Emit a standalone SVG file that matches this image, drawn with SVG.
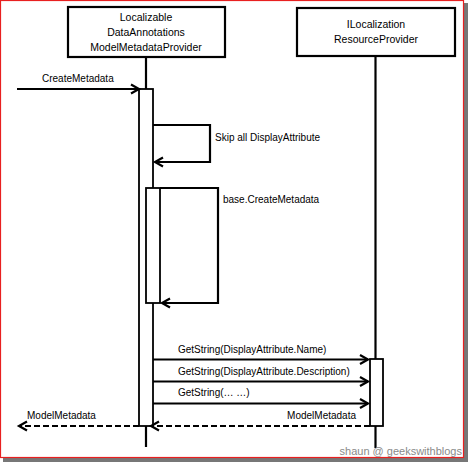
<svg xmlns="http://www.w3.org/2000/svg" width="468" height="462" viewBox="0 0 468 462">
<style>
.box{fill:#fff;stroke:#000;stroke-width:2.2}
.ln{fill:none;stroke:#000;stroke-width:2.2}
.dash{fill:none;stroke:#000;stroke-width:2.2;stroke-dasharray:6,3}
.act{fill:#fff;stroke:#000;stroke-width:1.8}
.h{font-family:"Liberation Sans",Arial,sans-serif;font-size:10.5px;fill:#000;text-anchor:middle}
.t{font-family:"Liberation Sans",Arial,sans-serif;font-size:10px;fill:#000}
</style>
<defs>
<marker id="ar" markerUnits="userSpaceOnUse" markerWidth="12" markerHeight="12" refX="9" refY="5" orient="auto" overflow="visible">
<path d="M1,0.5 L9,5 L1,9.5" fill="none" stroke="#000" stroke-width="2.2"/>
</marker>
</defs>
<rect x="0" y="0" width="468" height="462" fill="#fff"/>
<rect x="464" y="3" width="4" height="459" fill="#777"/>
<rect x="3" y="458" width="465" height="4" fill="#777"/>
<rect x="0.5" y="0.5" width="463" height="457" fill="none" stroke="#e82020" stroke-width="1.2"/>

<g id="lifelines">
<line class="ln" x1="146" y1="57" x2="146" y2="447"/>
<line class="ln" x1="375.5" y1="56" x2="375.5" y2="448"/>
</g>

<g id="node-provider">
<rect class="box" x="68" y="7" width="157" height="50"/>
<text class="h" x="146" y="21">Localizable</text>
<text class="h" x="146" y="36">DataAnnotations</text>
<text class="h" x="146" y="51">ModelMetadataProvider</text>
</g>
<g id="node-resource">
<rect class="box" x="297" y="8" width="158" height="48"/>
<text class="h" x="376" y="28">ILocalization</text>
<text class="h" x="376" y="43">ResourceProvider</text>
</g>

<g id="activations">
<rect class="act" x="139" y="89" width="14" height="337"/>
<rect class="act" x="146" y="188" width="14" height="115"/>
<rect class="act" x="370" y="359" width="13" height="67"/>
</g>

<g id="connectors">
<line class="ln" x1="17" y1="89" x2="139" y2="89" marker-end="url(#ar)"/>
<path class="ln" d="M153,125 H210 V162 H155" marker-end="url(#ar)"/>
<path class="ln" d="M160,188 H218 V303 H162" marker-end="url(#ar)"/>
<line class="ln" x1="153" y1="359.5" x2="368" y2="359.5" marker-end="url(#ar)"/>
<line class="ln" x1="153" y1="381.5" x2="368" y2="381.5" marker-end="url(#ar)"/>
<line class="ln" x1="153" y1="403.5" x2="368" y2="403.5" marker-end="url(#ar)"/>
<line class="dash" x1="370" y1="426" x2="151" y2="426" marker-end="url(#ar)"/>
<line class="dash" x1="139" y1="426" x2="19" y2="426" marker-end="url(#ar)"/>
</g>

<g id="labels">
<text class="t" x="42" y="81.5">CreateMetadata</text>
<text class="t" x="215" y="140.5">Skip all DisplayAttribute</text>
<text class="t" x="223" y="202.5">base.CreateMetadata</text>
<text class="t" x="178" y="352.5">GetString(DisplayAttribute.Name)</text>
<text class="t" x="178" y="374.5">GetString(DisplayAttribute.Description)</text>
<text class="t" x="178" y="395.5">GetString(… …)</text>
<text class="t" x="356" y="418.5" text-anchor="end">ModelMetadata</text>
<text class="t" x="27" y="418.5">ModelMetadata</text>
</g>
<text x="462" y="455" text-anchor="end" font-family="'Liberation Sans',Arial,sans-serif" font-size="11px" fill="#8a8a8a">shaun @ geekswithblogs</text>
</svg>
